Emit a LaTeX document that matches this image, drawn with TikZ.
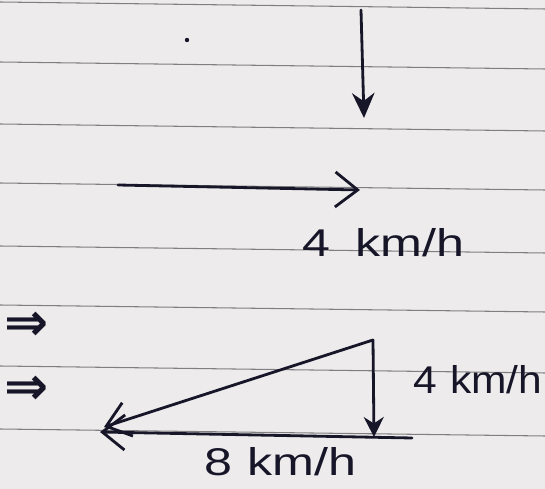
\documentclass[tikz,border=0pt]{standalone}
\usepackage{amsmath,amssymb}
\usepackage{fontspec}
\setmainfont{Liberation Sans}
\newfontfamily\arrowfont{DejaVu Sans}
\usetikzlibrary{arrows.meta}
\definecolor{paper}{RGB}{238,235,236}
\definecolor{rule}{RGB}{128,126,128}
\definecolor{ink}{RGB}{22,22,40}
\newcommand{\handtext}[2][1.3]{\scalebox{#1}[1]{#2}}

\begin{document}
\begin{tikzpicture}[x=0.02cm,y=-0.02cm,
    pen/.style={ink,line width=1.6pt,line cap=round},
    hand/.style={ink,font=\fontsize{22}{26}\selectfont},
    impl/.style={ink,font=\arrowfont\bfseries\fontsize{30}{34}\selectfont},
    barb/.style={-{Straight Barb[length=4.5mm,width=7mm,line width=1.6pt]}}]
  % --- the sheet of lined paper ----------------------------------------
  \fill[paper] (0,0) rectangle (545,489);
  \useasboundingbox (0,0) rectangle (545,489);
  \foreach \y in {2,62,124,183,246,305,366,429}
    \draw[rule,line width=0.6pt] (0,\y) -- (545,\y+7);

  % --- top: the two velocities -----------------------------------------
  \fill[ink] (187,40) circle (2.2);
  \coordinate (vtop) at (361,10);
  \coordinate (vbot) at (364,118);
  \draw[pen,-{Stealth[length=5mm,width=4.5mm]}] (vtop) -- (vbot);
  \coordinate (hleft) at (118,185);
  \coordinate (hright) at (360,190);
  \draw[pen,barb] (hleft) -- (hright);
  \node[hand] (vlab) at (383,243) {\handtext{4\hspace{0.5em}km/h}};

  % --- bottom: the triangle of velocities ------------------------------
  \node[impl] (imp1) at (27,326) {⇒};
  \node[impl] (imp2) at (27,390) {⇒};
  \coordinate (apex) at (373,340);
  \coordinate (foot) at (374,437);
  \coordinate (tail) at (412,438);
  \coordinate (head) at (100,432);
  \draw[pen,-{Stealth[length=4mm,width=4mm]}] (apex) -- (foot);
  \draw[pen,barb] (tail) -- (head);
  \draw[pen,barb] (apex) -- (104,427);
  \node[hand] (rlab) at (478,380) {\handtext[1.1]{4\hspace{0.3em}km/h}};
  \node[hand] (blab) at (280,462) {\handtext{8\hspace{0.3em}km/h}};
\end{tikzpicture}
\end{document}
